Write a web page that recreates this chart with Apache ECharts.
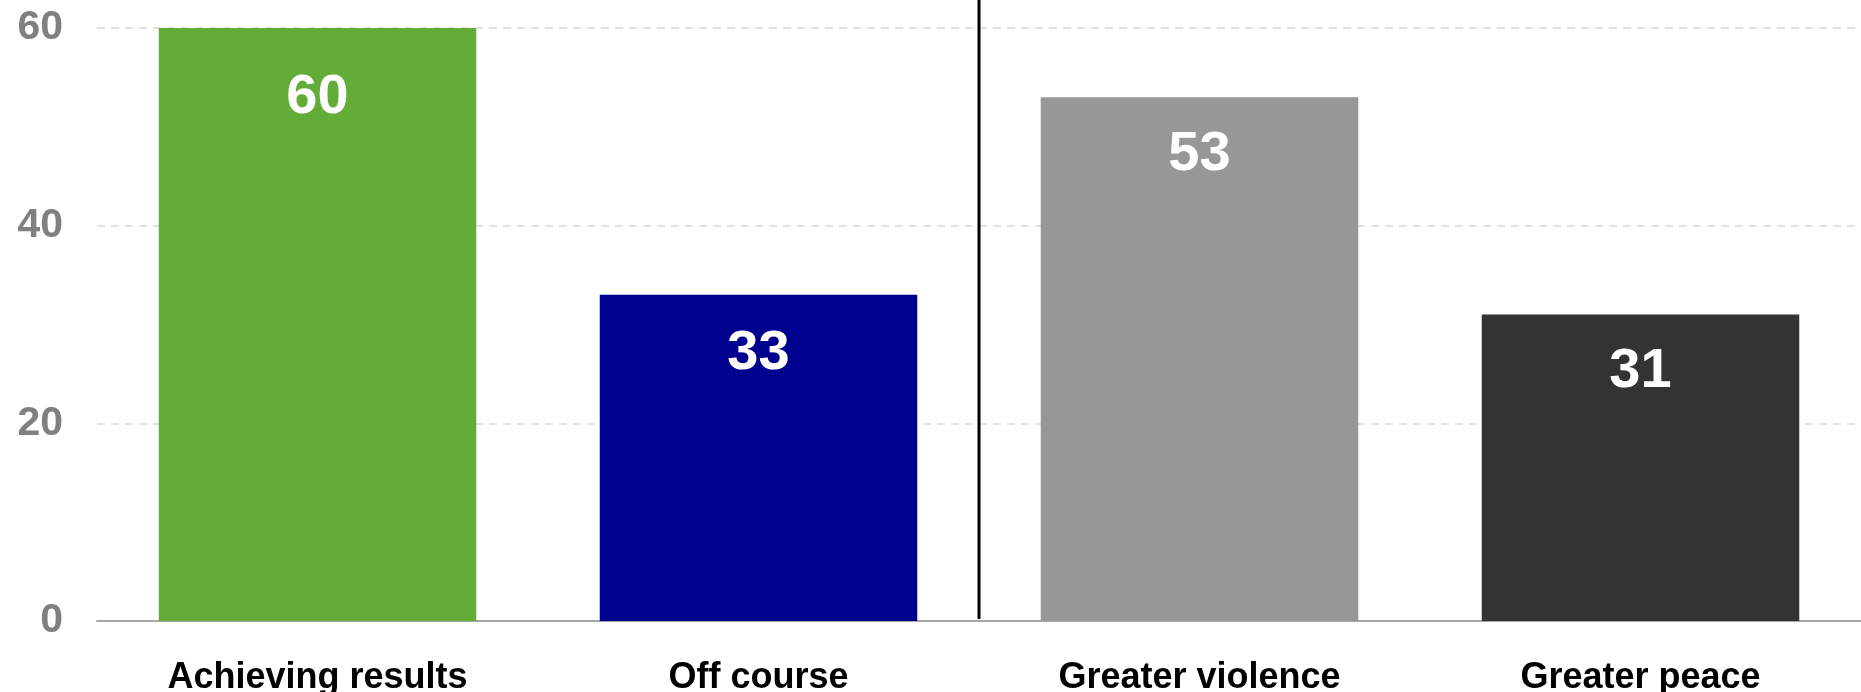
<!DOCTYPE html>
<html>
<head>
<meta charset="utf-8">
<script src="https://cdn.jsdelivr.net/npm/echarts@6/dist/echarts.min.js"></script>
<style>html,body{margin:0;padding:0;background:#fff}#c{width:1861px;height:692px}</style>
</head>
<body>
<div id="c"></div>
<script>
const categories = ['Achieving results', 'Off course', 'Greater violence', 'Greater peace'];
const values = [60, 33, 53, 31];
const barColors = ['#62ac37', '#00008f', '#979797', '#333333'];
const yTicks = [0, 20, 40, 60];
const dividerPoints = [[2, 0], [2, 1]];

const labelDistances = [42, 31, 29, 29];
const FONT = '"Liberation Sans", Arial, sans-serif';
const chart = echarts.init(document.getElementById('c'), null, {renderer: 'canvas'});
chart.setOption({
  animation: false,
  backgroundColor: '#ffffff',
  grid: [
    {left: 97, right: 0, top: 28, bottom: 71, outerBoundsMode: 'none', containLabel: false},
    {left: 97, right: 0, top: 0, bottom: 73, outerBoundsMode: 'none', containLabel: false}
  ],
  xAxis: [
    {
      type: 'category', gridIndex: 0, data: categories,
      axisLine: {lineStyle: {color: '#a6a6a6', width: 2}},
      axisTick: {length: 13, lineStyle: {color: '#a6a6a6', width: 2}},
      axisLabel: {color: '#000', fontWeight: 'bold', fontSize: 36, fontFamily: FONT, margin: 39, interval: 0}
    },
    {type: 'value', gridIndex: 1, min: 0, max: 4, show: false}
  ],
  yAxis: [
    {
      type: 'value', gridIndex: 0, min: yTicks[0], max: yTicks[yTicks.length - 1], interval: 20,
      axisLine: {show: false}, axisTick: {show: false},
      splitLine: {lineStyle: {color: '#d9d9d9', width: 1.5, type: [8, 6]}},
      axisLabel: {color: '#808080', fontWeight: 'bold', fontSize: 41, fontFamily: FONT, margin: 34}
    },
    {type: 'value', gridIndex: 1, min: 0, max: 1, show: false}
  ],
  series: [
    {
      type: 'bar', xAxisIndex: 0, yAxisIndex: 0, barWidth: '72%',
      data: values.map((v, i) => ({
        value: v,
        itemStyle: {color: barColors[i]},
        label: {distance: labelDistances[i]}
      })),
      label: {show: true, position: 'insideTop', color: '#fff', fontWeight: 'bold', fontSize: 56, fontFamily: FONT}
    },
    {
      type: 'line', xAxisIndex: 1, yAxisIndex: 1, data: dividerPoints, symbol: 'none', silent: true,
      lineStyle: {color: '#000', width: 3}
    }
  ]
});
</script>
</body>
</html>
